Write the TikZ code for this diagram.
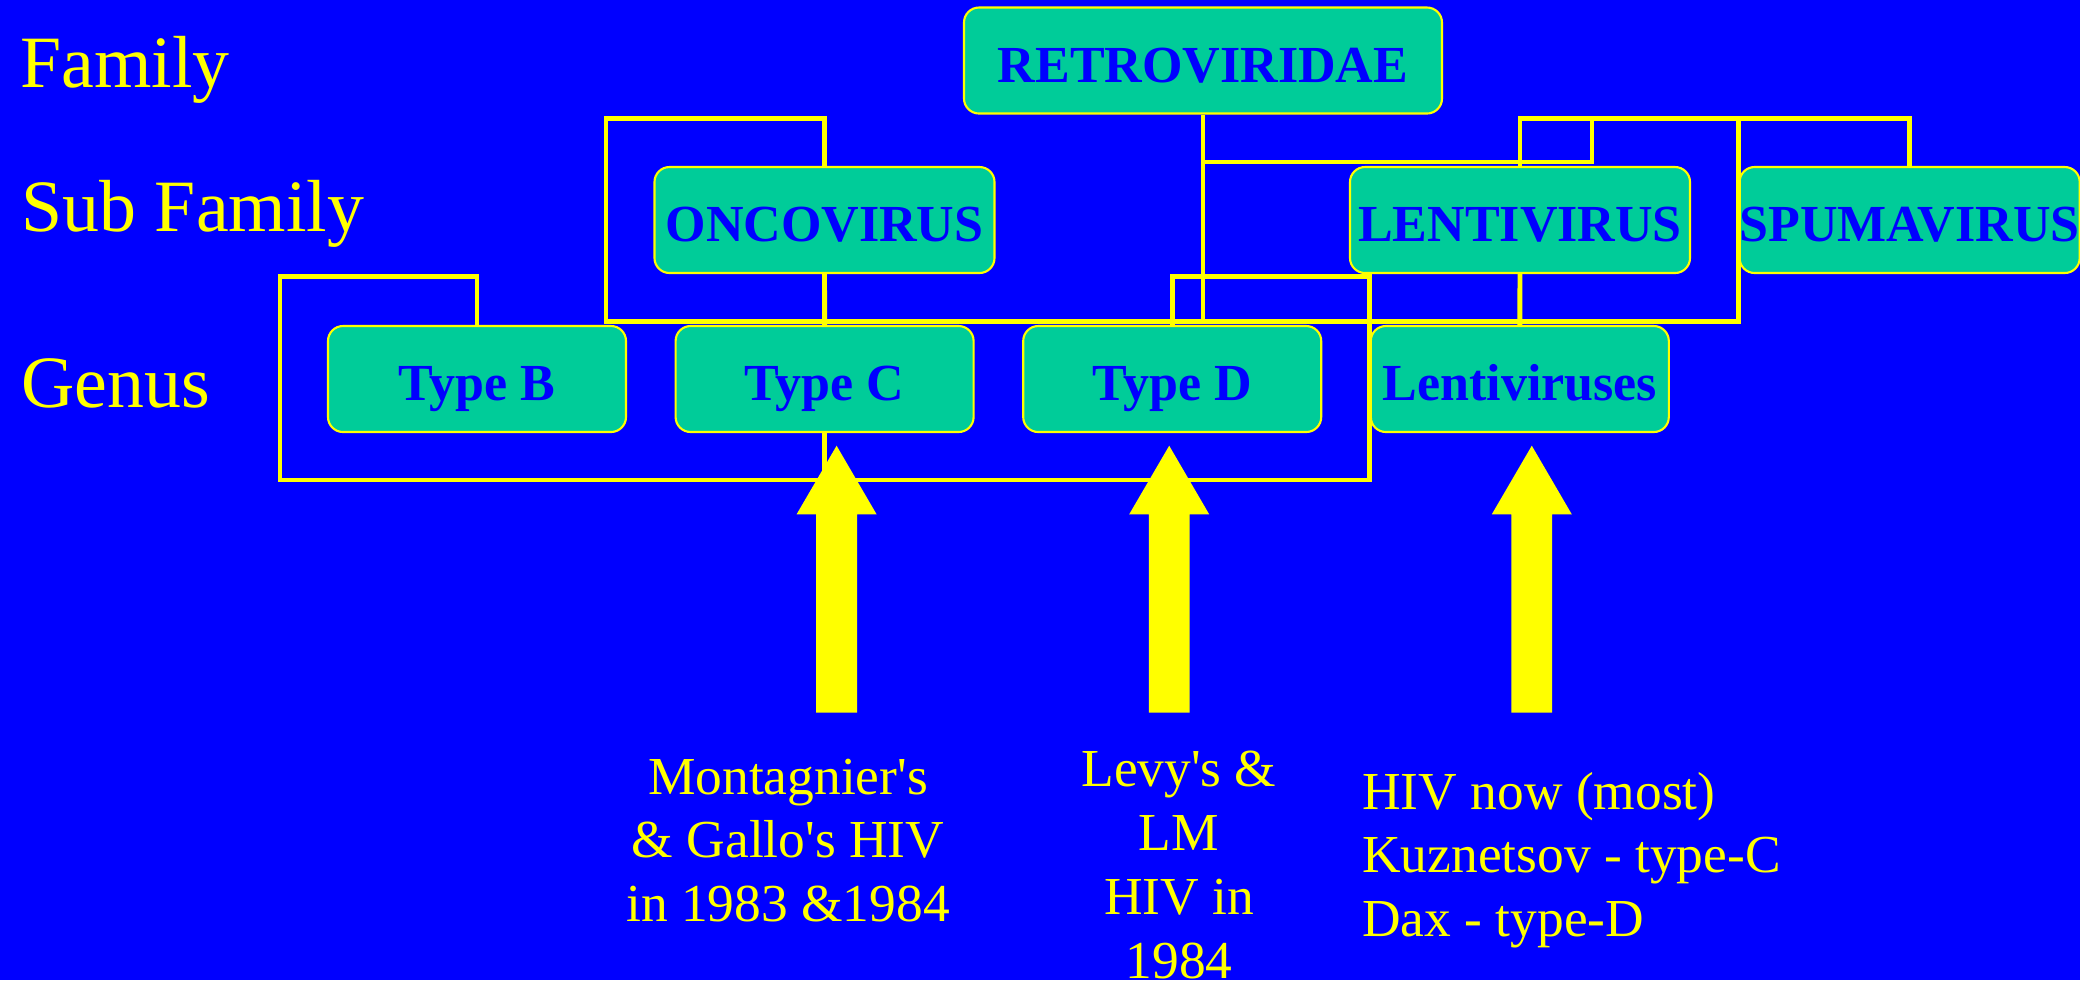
\documentclass[tikz,border=0pt]{standalone}
\usepackage{fontspec}
\setmainfont{Liberation Serif}
\usepackage{tikz}
\usetikzlibrary{calc, positioning}

\definecolor{slideblue}{HTML}{0000FF}
\definecolor{taxgreen}{HTML}{00CC99}
\definecolor{slideyellow}{HTML}{FFFF00}

\begin{document}
\begin{tikzpicture}[
  conn/.style={draw=slideyellow, line width=1.4pt},
  taxon/.style={
    draw=slideyellow,
    line width=0.6pt,
    fill=taxgreen,
    rounded corners=0.15cm,
    minimum width=#1,
    minimum height=1.06cm,
    inner sep=0pt,
    text height=0.53cm,
    text depth=0.10cm,
    text=slideblue,
    font=\bfseries\fontsize{14.8}{18}\selectfont
    },
  rank/.style={anchor=base west, inner sep=0pt, text=slideyellow,
    font=\fontsize{21}{25}\selectfont},
  note/.style={inner sep=0pt, text=slideyellow,
    font=\fontsize{15.2}{18.2}\selectfont},
  bigarrow/.style={fill=slideyellow}
]

\useasboundingbox (0,0) rectangle (20.8,-9.8);
\fill[slideblue] (0,0) rectangle (20.8,-9.8);

% rank labels
\node[rank] (lfamily) at (0.20,-0.877) {Family};
\node[rank] (lsubfam) at (0.21,-2.317) {Sub Family};
\node[rank] (lgenus) at (0.21,-4.073) {Genus};

% taxa
\node[taxon=4.78cm] (retro) at (12.03,-0.605) {RETROVIRIDAE};

\node[taxon=3.40cm] (onco) at (8.245,-2.20) {ONCOVIRUS};
\node[taxon=3.40cm] (lenti) at (15.20,-2.20) {LENTIVIRUS};
\node[taxon=3.40cm, right=0.475cm of lenti] (spuma) {SPUMAVIRUS};

\node[taxon=2.98cm] (typeB) at (4.77,-3.79) {Type B};
\node[taxon=2.98cm, right=0.475cm of typeB] (typeC) {Type C};
\node[taxon=2.98cm, right=0.475cm of typeC] (typeD) {Type D};
\node[taxon=2.98cm, right=0.475cm of typeD] (lentis) {Lentiviruses};

% levels of the connectors
\coordinate (topY) at (0,-1.183);
\coordinate (midY) at (0,-1.62);
\coordinate (lowY) at (0,-2.767);
\coordinate (barY) at (0,-3.217);
\coordinate (botY) at (0,-4.80);
\coordinate (lentiJoin) at (15.92,-1.183);
\coordinate (oncoLeft) at (6.06,-1.183);
\coordinate (typeBLeft) at (2.80,-2.767);

% connectors
\draw[conn] (retro.south) -- (retro.south |- barY);
\draw[conn] (retro.south |- midY) -| (lentiJoin);
\draw[conn] (lenti.north) |- (spuma.north |- topY) -- (spuma.north);
\draw[conn] (onco.north) |- (oncoLeft) |- (spuma.west |- barY) -- (spuma.west |- topY);
\draw[conn] (onco.south) -- (typeC.north);
\draw[conn] (lenti.south) -- (lentis.north);
\draw[conn] (typeB.north) |- (typeBLeft) |- (lentis.west |- botY)
  |- (typeD.north |- lowY) -- (typeD.north);
\draw[conn] (typeC.south) -- (typeC.south |- botY);

% block arrows
\fill[bigarrow] (8.366,-4.457) -- ++(0.40,-0.686) -- ++(-0.196,0) -- ++(0,-1.984)
  -- ++(-0.408,0) -- ++(0,1.984) -- ++(-0.196,0) -- cycle;
\fill[bigarrow] (11.692,-4.457) -- ++(0.40,-0.686) -- ++(-0.196,0) -- ++(0,-1.984)
  -- ++(-0.408,0) -- ++(0,1.984) -- ++(-0.196,0) -- cycle;
\fill[bigarrow] (15.318,-4.457) -- ++(0.40,-0.686) -- ++(-0.196,0) -- ++(0,-1.984)
  -- ++(-0.408,0) -- ++(0,1.984) -- ++(-0.196,0) -- cycle;

% notes
\node[note, anchor=north, align=center] (noteC) at (7.88,-7.485)
  {\strut Montagnier\textquotesingle s\\ \& Gallo\textquotesingle s HIV\\ in 1983 \&1984};
\node[note, anchor=north, align=center] (noteD) at (11.79,-7.412)
  {\strut Levy\textquotesingle s \&\\ LM\\ HIV in\\ 1984};
\node[note, anchor=north west, align=left] (noteL) at (13.617,-7.635)
  {\strut HIV now (most)\\ Kuznetsov - type-C\\ Dax - type-D};

\end{tikzpicture}
\end{document}
